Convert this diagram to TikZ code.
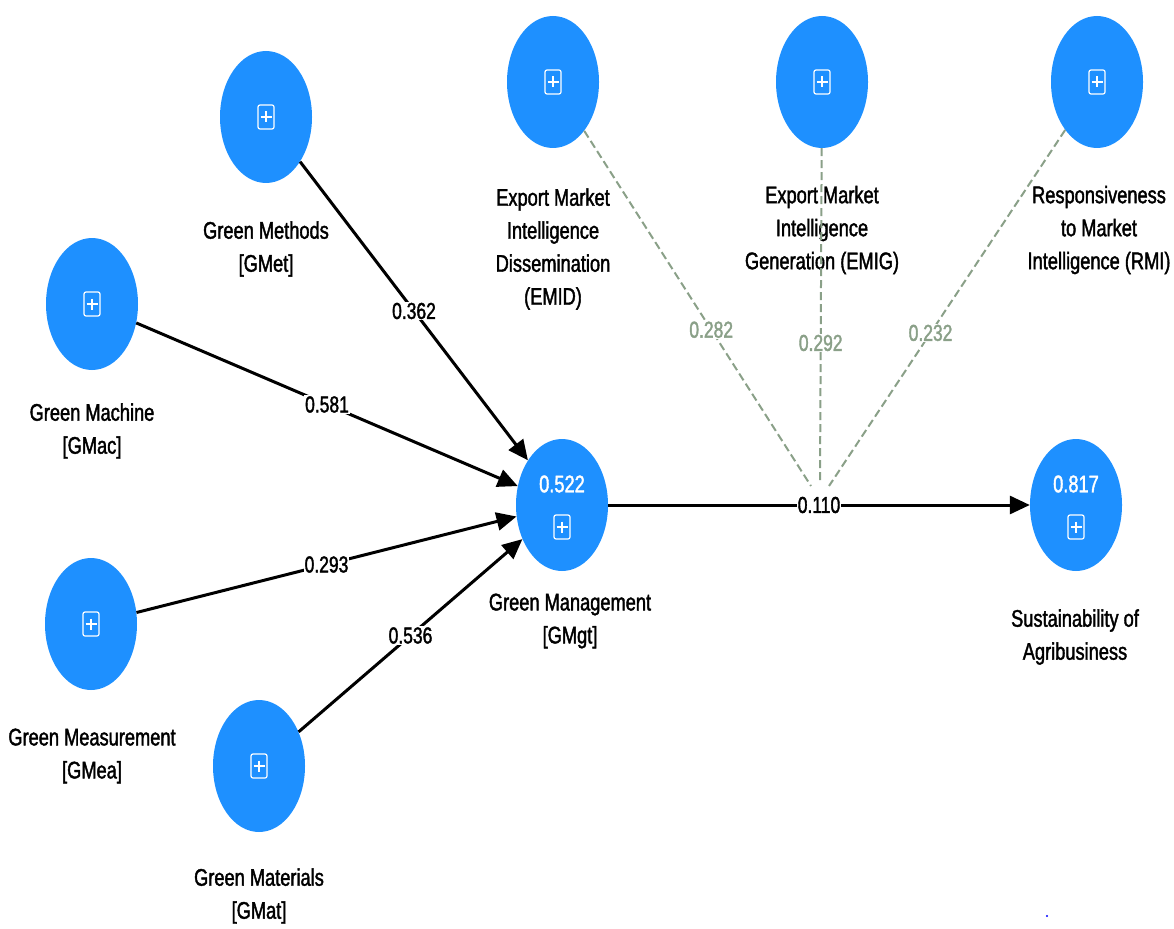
\documentclass[tikz,border=0pt]{standalone}
\usepackage{fontspec}
\setmainfont[FakeStretch=0.76, FakeBold=1.6]{Liberation Sans}
\usetikzlibrary{shapes.geometric,arrows.meta}
\definecolor{lvblue}{RGB}{30,144,255}
\definecolor{modgray}{RGB}{138,160,136}
\tikzset{
  lv/.style={ellipse, fill=lvblue, draw=none, minimum width=92pt, minimum height=132pt, inner sep=0pt},
  lbl/.style={align=center, font=\fontsize{24}{33}\selectfont, inner sep=0pt},
  path/.style={line width=3pt, -{Triangle[length=20pt,width=18pt]}},
  coef/.style={fill=white, inner sep=1pt, font=\fontsize{23}{26}\selectfont},
  modline/.style={modgray, line width=2pt, dash pattern=on 8pt off 4pt},
  modcoef/.style={fill=white, inner sep=1pt, text=modgray, font=\fontsize{23}{26}\selectfont},
  plusbox/.pic={
    \draw[white, line width=1.2pt, rounded corners=2pt] (-8,-12) rectangle (8,12);
    \draw[white, line width=1.2pt] (-5.5,0) -- (5.5,0) (0,-5.5) -- (0,5.5);
  }
}
\begin{document}
\begin{tikzpicture}[x=1pt, y=-1pt]
\useasboundingbox (0,0) rectangle (1174,928);

% latent variables
\node[lv] (gmet) at (266,117) {};
\node[lv] (emid) at (553,82) {};
\node[lv] (emig) at (822,82) {};
\node[lv] (rmi)  at (1097,82) {};
\node[lv] (gmac) at (92,304) {};
\node[lv] (gmgt) at (562,505) {};
\node[lv] (sust) at (1076,505) {};
\node[lv] (gmea) at (91,624) {};
\node[lv] (gmat) at (259,766) {};

% expand icons
\foreach \n in {gmet,emid,emig,rmi,gmac,gmea,gmat}
  \pic at (\n.center) {plusbox};
\pic at (562,527) {plusbox};
\pic at (1076,527) {plusbox};

% R-squared values
\node[lbl, text=white] (r2gmgt) at (562,484) {0.522};
\node[lbl, text=white] (r2sust) at (1076,484) {0.817};

% labels
\node[lbl] (tgmet) at (266,249) {Green Methods\\ {[GMet]}};
\node[lbl] (temid) at (553,249) {Export Market\\ Intelligence\\ Dissemination\\ (EMID)};
\node[lbl] (temig) at (822,230) {Export Market\\ Intelligence\\ Generation (EMIG)};
\node[lbl] (trmi)  at (1099,230) {Responsiveness\\ to Market\\ Intelligence (RMI)};
\node[lbl] (tgmac) at (92,431) {Green Machine\\ {[GMac]}};
\node[lbl] (tgmgt) at (570,621) {Green Management\\ {[GMgt]}};
\node[lbl] (tsust) at (1075,637) {Sustainability of\\ Agribusiness};
\node[lbl] (tgmea) at (92,756) {Green Measurement\\ {[GMea]}};
\node[lbl] (tgmat) at (259,896) {Green Materials\\ {[GMat]}};

% moderating effect converging on the main path
\coordinate (m1) at (811,486);
\coordinate (m2) at (820,484);
\coordinate (m3) at (829,486);
\draw[modline] (emid) -- (m1) node[modcoef, pos=0.56] {0.282};
\draw[modline] (emig) -- (m2) node[modcoef, pos=0.58] {0.292};
\draw[modline] (rmi)  -- (m3) node[modcoef, pos=0.57] {0.232};

% structural paths
\draw[path] (gmet) -- (gmgt) node[coef, pos=0.5] {0.362};
\draw[path] (gmac) -- (gmgt) node[coef, pos=0.5] {0.581};
\draw[path] (gmea) -- (gmgt) node[coef, pos=0.5] {0.293};
\draw[path] (gmat) -- (gmgt) node[coef, pos=0.5] {0.536};
\draw[path] (gmgt) -- (sust) node[coef, pos=0.5] {0.110};

% small mark
\fill[blue] (1047,916) circle (1.2pt);
\end{tikzpicture}
\end{document}
